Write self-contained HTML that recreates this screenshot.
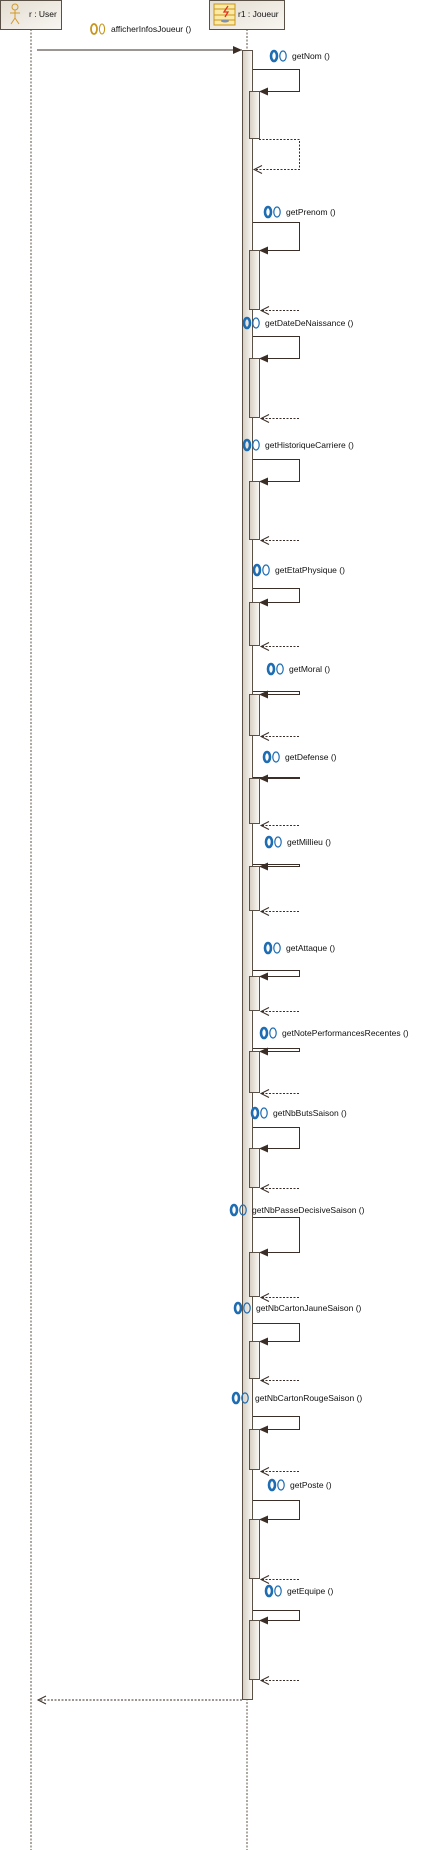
<!DOCTYPE html>
<html><head><meta charset="utf-8"><style>
html,body{margin:0;padding:0;background:#fff;}
svg{display:block;}
text{font-family:"Liberation Sans",sans-serif;font-size:8.5px;fill:#111;}
</style></head><body>
<svg width="427" height="1850" viewBox="0 0 427 1850" xmlns="http://www.w3.org/2000/svg">
<defs>
<linearGradient id="act" x1="0" x2="1" y1="0" y2="0"><stop offset="0" stop-color="#d6cec2"/><stop offset="1" stop-color="#fbfaf7"/></linearGradient>
<linearGradient id="box" x1="0" x2="1" y1="0" y2="1"><stop offset="0" stop-color="#e4ddd1"/><stop offset="1" stop-color="#f8f6f2"/></linearGradient>
<g id="ic"><ellipse cx="4" cy="0" rx="3" ry="5" fill="none" stroke="#1e6db3" stroke-width="2.6"/><ellipse cx="13" cy="0" rx="3.2" ry="5" fill="none" stroke="#1e6db3" stroke-width="1.2"/></g>
</defs>
<!-- lifelines -->
<line x1="31" y1="29" x2="31" y2="1850" stroke="#5a5046" stroke-dasharray="2,1.5"/>
<line x1="247" y1="29" x2="247" y2="1850" stroke="#5a5046" stroke-dasharray="2,1.5"/>
<!-- heads -->
<rect x="0.5" y="0.5" width="61" height="29" fill="url(#box)" stroke="#5a5046"/>
<g stroke="#d29a2a" fill="none" stroke-width="1"><circle cx="15" cy="7" r="3"/><line x1="15" y1="10" x2="15" y2="18"/><line x1="10" y1="13" x2="20" y2="13"/><line x1="15" y1="18" x2="11" y2="24"/><line x1="15" y1="18" x2="19" y2="24"/></g>
<text x="29" y="17">r : User</text>
<rect x="209.5" y="0.5" width="75" height="29" fill="url(#box)" stroke="#5a5046"/>
<rect x="214" y="4" width="21" height="21" fill="#fbe9a6" stroke="#c8961e"/>
<line x1="214" y1="9" x2="235" y2="9" stroke="#c8961e"/><line x1="214" y1="15" x2="235" y2="15" stroke="#c8961e"/><line x1="214" y1="20" x2="235" y2="20" stroke="#c8961e"/>
<path d="M228 6 L224 12 L228 12 L225 17" stroke="#e03020" fill="none" stroke-width="1.3"/>
<ellipse cx="225" cy="21" rx="4" ry="1.5" fill="#8090b0"/>
<text x="238" y="17">r1 : Joueur</text>
<!-- main call -->
<line x1="37" y1="50" x2="242" y2="50" stroke="#3a2e26" stroke-width="1"/>
<polygon points="242,50 233,46 233,54" fill="#3a2e26"/>
<ellipse cx="94" cy="29" rx="3" ry="5" fill="none" stroke="#c8961e" stroke-width="1.8"/><ellipse cx="102" cy="29" rx="2.6" ry="5" fill="none" stroke="#c8961e" stroke-width="1.1"/>
<text x="111" y="32">afficherInfosJoueur ()</text>
<rect x="242.5" y="50.5" width="10" height="1649" fill="url(#act)" stroke="#5a5046"/>
<line x1="242" y1="1700" x2="38" y2="1700" stroke="#3a2e26" stroke-dasharray="2,1.5"/>
<polyline points="46,1696 38,1700 46,1704" fill="none" stroke="#3a2e26"/>

<g stroke="#3a2e26" fill="none">
<!-- getNom -->
<path d="M253 69.5 H299.5 V91.5 H260"/>
<path d="M259 139.5 H299.5 V169.5 H254" stroke-dasharray="2,1.5"/>
<polyline points="262,165.5 254,169.5 262,173.5"/>
</g>
<polygon points="259,91.5 268,87.5 268,95.5" fill="#3a2e26"/>
<rect x="249.5" y="91.5" width="10" height="47" fill="url(#act)" stroke="#5a5046"/>
<use href="#ic" x="270" y="56"/><text x="292" y="59">getNom ()</text>

<!-- generic calls -->
<g id="c1"><path d="M253 222.5 H299.5 V250.5 H260" stroke="#3a2e26" fill="none"/><polygon points="259,250.5 268,246.5 268,254.5" fill="#3a2e26"/><rect x="249.5" y="250.5" width="10" height="59" fill="url(#act)" stroke="#5a5046"/><line x1="299" y1="310.5" x2="261" y2="310.5" stroke="#3a2e26" stroke-dasharray="2,1.5"/><polyline points="269,306.5 261,310.5 269,314.5" fill="none" stroke="#3a2e26"/><use href="#ic" x="264" y="212"/><text x="286" y="215">getPrenom ()</text></g>

<g><path d="M253 336.5 H299.5 V358.5 H260" stroke="#3a2e26" fill="none"/><polygon points="259,358.5 268,354.5 268,362.5" fill="#3a2e26"/><rect x="249.5" y="358.5" width="10" height="59" fill="url(#act)" stroke="#5a5046"/><line x1="299" y1="418.5" x2="261" y2="418.5" stroke="#3a2e26" stroke-dasharray="2,1.5"/><polyline points="269,414.5 261,418.5 269,422.5" fill="none" stroke="#3a2e26"/><use href="#ic" x="243" y="323"/><text x="265" y="326">getDateDeNaissance ()</text></g>

<g><path d="M253 459.5 H299.5 V481.5 H260" stroke="#3a2e26" fill="none"/><polygon points="259,481.5 268,477.5 268,485.5" fill="#3a2e26"/><rect x="249.5" y="481.5" width="10" height="58" fill="url(#act)" stroke="#5a5046"/><line x1="299" y1="540.5" x2="261" y2="540.5" stroke="#3a2e26" stroke-dasharray="2,1.5"/><polyline points="269,536.5 261,540.5 269,544.5" fill="none" stroke="#3a2e26"/><use href="#ic" x="243" y="445"/><text x="265" y="448">getHistoriqueCarriere ()</text></g>

<g><path d="M253 588.5 H299.5 V602.5 H260" stroke="#3a2e26" fill="none"/><polygon points="259,602.5 268,598.5 268,606.5" fill="#3a2e26"/><rect x="249.5" y="602.5" width="10" height="43" fill="url(#act)" stroke="#5a5046"/><line x1="299" y1="646.5" x2="261" y2="646.5" stroke="#3a2e26" stroke-dasharray="2,1.5"/><polyline points="269,642.5 261,646.5 269,650.5" fill="none" stroke="#3a2e26"/><use href="#ic" x="253" y="570"/><text x="275" y="573">getEtatPhysique ()</text></g>

<g><path d="M253 691.5 H299.5 V694.5 H260" stroke="#3a2e26" fill="none"/><polygon points="259,694.5 268,690.5 268,698.5" fill="#3a2e26"/><rect x="249.5" y="694.5" width="10" height="41" fill="url(#act)" stroke="#5a5046"/><line x1="299" y1="736.5" x2="261" y2="736.5" stroke="#3a2e26" stroke-dasharray="2,1.5"/><polyline points="269,732.5 261,736.5 269,740.5" fill="none" stroke="#3a2e26"/><use href="#ic" x="267" y="669"/><text x="289" y="672">getMoral ()</text></g>

<g><path d="M253 777.5 H299.5 V778.5 H260" stroke="#3a2e26" fill="none"/><polygon points="259,778.5 268,774.5 268,782.5" fill="#3a2e26"/><rect x="249.5" y="778.5" width="10" height="45" fill="url(#act)" stroke="#5a5046"/><line x1="299" y1="825.5" x2="261" y2="825.5" stroke="#3a2e26" stroke-dasharray="2,1.5"/><polyline points="269,821.5 261,825.5 269,829.5" fill="none" stroke="#3a2e26"/><use href="#ic" x="263" y="757"/><text x="285" y="760">getDefense ()</text></g>

<g><path d="M253 864.5 H299.5 V866.5 H260" stroke="#3a2e26" fill="none"/><polygon points="259,866.5 268,862.5 268,870.5" fill="#3a2e26"/><rect x="249.5" y="866.5" width="10" height="44" fill="url(#act)" stroke="#5a5046"/><line x1="299" y1="911.5" x2="261" y2="911.5" stroke="#3a2e26" stroke-dasharray="2,1.5"/><polyline points="269,907.5 261,911.5 269,915.5" fill="none" stroke="#3a2e26"/><use href="#ic" x="265" y="842"/><text x="287" y="845">getMillieu ()</text></g>

<g><path d="M253 970.5 H299.5 V976.5 H260" stroke="#3a2e26" fill="none"/><polygon points="259,976.5 268,972.5 268,980.5" fill="#3a2e26"/><rect x="249.5" y="976.5" width="10" height="34" fill="url(#act)" stroke="#5a5046"/><line x1="299" y1="1011.5" x2="261" y2="1011.5" stroke="#3a2e26" stroke-dasharray="2,1.5"/><polyline points="269,1007.5 261,1011.5 269,1015.5" fill="none" stroke="#3a2e26"/><use href="#ic" x="264" y="948"/><text x="286" y="951">getAttaque ()</text></g>

<g><path d="M253 1048.5 H299.5 V1051.5 H260" stroke="#3a2e26" fill="none"/><polygon points="259,1051.5 268,1047.5 268,1055.5" fill="#3a2e26"/><rect x="249.5" y="1051.5" width="10" height="41" fill="url(#act)" stroke="#5a5046"/><line x1="299" y1="1093.5" x2="261" y2="1093.5" stroke="#3a2e26" stroke-dasharray="2,1.5"/><polyline points="269,1089.5 261,1093.5 269,1097.5" fill="none" stroke="#3a2e26"/><use href="#ic" x="260" y="1033"/><text x="282" y="1036">getNotePerformancesRecentes ()</text></g>

<g><path d="M253 1127.5 H299.5 V1148.5 H260" stroke="#3a2e26" fill="none"/><polygon points="259,1148.5 268,1144.5 268,1152.5" fill="#3a2e26"/><rect x="249.5" y="1148.5" width="10" height="39" fill="url(#act)" stroke="#5a5046"/><line x1="299" y1="1188.5" x2="261" y2="1188.5" stroke="#3a2e26" stroke-dasharray="2,1.5"/><polyline points="269,1184.5 261,1188.5 269,1192.5" fill="none" stroke="#3a2e26"/><use href="#ic" x="251" y="1113"/><text x="273" y="1116">getNbButsSaison ()</text></g>

<g><path d="M253 1217.5 H299.5 V1252.5 H260" stroke="#3a2e26" fill="none"/><polygon points="259,1252.5 268,1248.5 268,1256.5" fill="#3a2e26"/><rect x="249.5" y="1252.5" width="10" height="44" fill="url(#act)" stroke="#5a5046"/><line x1="299" y1="1297.5" x2="261" y2="1297.5" stroke="#3a2e26" stroke-dasharray="2,1.5"/><polyline points="269,1293.5 261,1297.5 269,1301.5" fill="none" stroke="#3a2e26"/><use href="#ic" x="230" y="1210"/><text x="252" y="1213">getNbPasseDecisiveSaison ()</text></g>

<g><path d="M253 1323.5 H299.5 V1341.5 H260" stroke="#3a2e26" fill="none"/><polygon points="259,1341.5 268,1337.5 268,1345.5" fill="#3a2e26"/><rect x="249.5" y="1341.5" width="10" height="37" fill="url(#act)" stroke="#5a5046"/><line x1="299" y1="1380.5" x2="261" y2="1380.5" stroke="#3a2e26" stroke-dasharray="2,1.5"/><polyline points="269,1376.5 261,1380.5 269,1384.5" fill="none" stroke="#3a2e26"/><use href="#ic" x="234" y="1308"/><text x="256" y="1311">getNbCartonJauneSaison ()</text></g>

<g><path d="M253 1416.5 H299.5 V1429.5 H260" stroke="#3a2e26" fill="none"/><polygon points="259,1429.5 268,1425.5 268,1433.5" fill="#3a2e26"/><rect x="249.5" y="1429.5" width="10" height="40" fill="url(#act)" stroke="#5a5046"/><line x1="299" y1="1471.5" x2="261" y2="1471.5" stroke="#3a2e26" stroke-dasharray="2,1.5"/><polyline points="269,1467.5 261,1471.5 269,1475.5" fill="none" stroke="#3a2e26"/><use href="#ic" x="232" y="1398"/><text x="255" y="1401">getNbCartonRougeSaison ()</text></g>

<g><path d="M253 1500.5 H299.5 V1519.5 H260" stroke="#3a2e26" fill="none"/><polygon points="259,1519.5 268,1515.5 268,1523.5" fill="#3a2e26"/><rect x="249.5" y="1519.5" width="10" height="59" fill="url(#act)" stroke="#5a5046"/><line x1="299" y1="1579.5" x2="261" y2="1579.5" stroke="#3a2e26" stroke-dasharray="2,1.5"/><polyline points="269,1575.5 261,1579.5 269,1583.5" fill="none" stroke="#3a2e26"/><use href="#ic" x="268" y="1485"/><text x="290" y="1488">getPoste ()</text></g>

<g><path d="M253 1610.5 H299.5 V1620.5 H260" stroke="#3a2e26" fill="none"/><polygon points="259,1620.5 268,1616.5 268,1624.5" fill="#3a2e26"/><rect x="249.5" y="1620.5" width="10" height="59" fill="url(#act)" stroke="#5a5046"/><line x1="299" y1="1680.5" x2="261" y2="1680.5" stroke="#3a2e26" stroke-dasharray="2,1.5"/><polyline points="269,1676.5 261,1680.5 269,1684.5" fill="none" stroke="#3a2e26"/><use href="#ic" x="265" y="1591"/><text x="287" y="1594">getEquipe ()</text></g>
</svg>
</body></html>
